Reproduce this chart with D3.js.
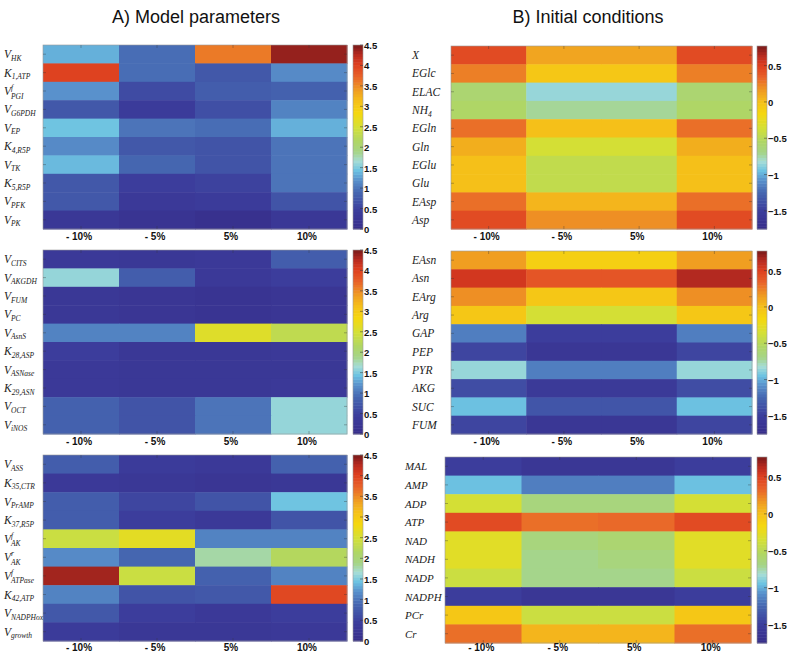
<!DOCTYPE html>
<html><head><meta charset="utf-8">
<script src="https://cdn.jsdelivr.net/npm/d3@7"></script>
<style>
body{margin:0;background:#fff;}
svg{display:block;}
</style></head>
<body>
<svg id="chart" width="787" height="655"></svg>
<script>
const columns = ["- 10%", "- 5%", "5%", "10%"];

// A) Model parameters
const rowsA1 = ["V_HK","K_1,ATP","V^f_PGI","V_G6PDH","V_EP","K_4,R5P","V_TK","K_5,R5P","V_PFK","V_PK"];
const valsA1 = [
  [1.35,0.95,3.6,4.4],
  [4.0,0.95,0.75,1.15],
  [1.2,0.6,0.8,0.85],
  [0.75,0.4,0.65,1.1],
  [1.45,1.0,0.95,1.35],
  [1.15,0.75,0.7,1.0],
  [1.4,0.9,0.7,1.0],
  [0.75,0.45,0.5,1.0],
  [0.75,0.35,0.4,0.7],
  [0.3,0.2,0.1,0.3]
];
const rowsA2 = ["V_CITS","V_AKGDH","V_FUM","V_PC","V_AsnS","K_28,ASP","V_ASNase","K_29,ASN","V_OCT","V_iNOS"];
const valsA2 = [
  [0.35,0.3,0.35,0.8],
  [1.6,0.8,0.35,0.45],
  [0.3,0.25,0.2,0.25],
  [0.3,0.25,0.2,0.25],
  [1.1,1.1,2.6,2.3],
  [0.45,0.3,0.3,0.35],
  [0.35,0.3,0.3,0.3],
  [0.35,0.3,0.3,0.35],
  [0.85,0.7,1.0,1.6],
  [0.85,0.7,1.0,1.6]
];
const rowsA3 = ["V_ASS","K_35,CTR","V_PrAMP","K_37,R5P","V^f_AK","V^r_AK","V^f_ATPase","K_42,ATP","V_NADPHox","V_growth"];
const valsA3 = [
  [0.8,0.4,0.35,0.85],
  [0.35,0.3,0.25,0.3],
  [0.8,0.55,0.7,1.45],
  [0.8,0.45,0.35,0.7],
  [2.4,2.65,1.1,1.1],
  [1.15,0.9,1.8,2.2],
  [4.35,2.4,0.85,1.1],
  [1.1,0.7,0.75,3.95],
  [0.75,0.45,0.35,0.45],
  [0.4,0.3,0.3,0.35]
];
const rangeA = [0, 4.5];
const ticksA = [0,0.5,1,1.5,2,2.5,3,3.5,4,4.5];

// B) Initial conditions
const rowsB1 = ["X","EGlc","ELAC","NH_4","EGln","Gln","EGlu","Glu","EAsp","Asp"];
const valsB1 = [
  [0.45,0.12,0.12,0.45],
  [0.25,-0.05,-0.05,0.25],
  [-0.6,-0.85,-0.85,-0.6],
  [-0.55,-0.72,-0.72,-0.55],
  [0.3,0.0,0.0,0.3],
  [0.08,-0.35,-0.35,0.08],
  [0.0,-0.45,-0.45,0.0],
  [0.0,-0.45,-0.45,0.0],
  [0.3,0.05,0.05,0.3],
  [0.45,0.2,0.2,0.45]
];
const rowsB2 = ["EAsn","Asn","EArg","Arg","GAP","PEP","PYR","AKG","SUC","FUM"];
const valsB2 = [
  [0.15,-0.1,-0.1,0.15],
  [0.55,0.4,0.4,0.65],
  [0.2,-0.05,-0.05,0.2],
  [-0.05,-0.35,-0.35,-0.05],
  [-1.15,-1.5,-1.5,-1.15],
  [-1.45,-1.6,-1.6,-1.45],
  [-0.85,-1.15,-1.15,-0.85],
  [-1.4,-1.55,-1.55,-1.4],
  [-0.95,-1.35,-1.35,-0.95],
  [-1.45,-1.6,-1.6,-1.45]
];
const rowsB3 = ["MAL","AMP","ADP","ATP","NAD","NADH","NADP","NADPH","PCr","Cr"];
const valsB3 = [
  [-1.5,-1.6,-1.6,-1.5],
  [-0.95,-1.15,-1.15,-0.95],
  [-0.35,-0.65,-0.65,-0.35],
  [0.45,0.3,0.32,0.45],
  [-0.28,-0.65,-0.6,-0.28],
  [-0.28,-0.7,-0.65,-0.28],
  [-0.4,-0.7,-0.7,-0.4],
  [-1.5,-1.6,-1.6,-1.5],
  [-0.05,-0.4,-0.4,-0.05],
  [0.3,0.05,0.05,0.3]
];
const rangeB = [-1.75, 0.77];
const ticksB = [-1.5,-1,-0.5,0,0.5];

// colormap
const cmapStops = [0,0.10,0.20,0.27,0.32,0.37,0.42,0.48,0.55,0.63,0.70,0.76,0.83,0.90,0.95,1];
const cmapColors = ["#372d8a","#3c3d9c","#4566b0","#5a93cd","#6dc3e2","#a5dcd6","#a5d486","#b0d664","#d2e038","#f5d80f","#f5be1a","#ef9a22","#e8622a","#dc3c1e","#b62a20","#7a1a1a"];
const cmap = d3.scaleLinear().domain(cmapStops).range(cmapColors).interpolate(d3.interpolateRgb).clamp(true);

const svg = d3.select("#chart");

svg.append("text").attr("x",196).attr("y",23).attr("text-anchor","middle")
  .attr("font-family","'Liberation Sans Narrow','Liberation Sans',Arial,sans-serif")
  .attr("font-stretch","condensed").attr("font-size",18).attr("fill","#111").text("A) Model parameters");
svg.append("text").attr("x",588).attr("y",23).attr("text-anchor","middle")
  .attr("font-family","'Liberation Sans Narrow','Liberation Sans',Arial,sans-serif")
  .attr("font-stretch","condensed").attr("font-size",18).attr("fill","#111").text("B) Initial conditions");

function parseLabel(s){
  let base=s, sub="", sup="";
  const ci = s.search(/[\^_]/);
  if(ci>=0){
    base = s.slice(0,ci);
    let rest = s.slice(ci);
    const mSup = rest.match(/\^([^_]*)/);
    const mSub = rest.match(/_([^\^]*)/);
    if(mSup) sup = mSup[1];
    if(mSub) sub = mSub[1];
  }
  return {base,sub,sup};
}

function panel(cfg){
  const {rows, vals, range, ticks, x0, x1, y0, y1, labelX, cbX, labelSize} = cfg;
  const g = svg.append("g");
  const x = d3.scaleBand().domain(columns).range([x0,x1]);
  const y = d3.scaleBand().domain(rows).range([y0,y1]);
  const norm = d3.scaleLinear().domain(range).range([0,1]);
  rows.forEach((r,i)=>{
    columns.forEach((c,j)=>{
      g.append("rect").attr("x",x(c)).attr("y",y(r))
        .attr("width",x.bandwidth()+0.5).attr("height",y.bandwidth()+0.5)
        .attr("fill",cmap(norm(vals[i][j])));
    });
  });
  g.append("rect").attr("x",x0).attr("y",y0).attr("width",x1-x0).attr("height",y1-y0)
    .attr("fill","none").attr("stroke","#999").attr("stroke-width",0.6);
  rows.forEach(r=>{
    const yc = y(r)+y.bandwidth()/2;
    g.append("line").attr("x1",x0).attr("x2",x0+3).attr("y1",yc).attr("y2",yc).attr("stroke","#333").attr("stroke-opacity",0.35);
    g.append("line").attr("x1",x1-3).attr("x2",x1).attr("y1",yc).attr("y2",yc).attr("stroke","#333").attr("stroke-opacity",0.35);
  });
  columns.forEach(c=>{
    const xc = x(c)+x.bandwidth()/2;
    g.append("line").attr("x1",xc).attr("x2",xc).attr("y1",y0).attr("y2",y0+3).attr("stroke","#333").attr("stroke-opacity",0.35);
    g.append("line").attr("x1",xc).attr("x2",xc).attr("y1",y1-3).attr("y2",y1).attr("stroke","#333").attr("stroke-opacity",0.35);
    g.append("text").attr("x",xc-2).attr("y",Math.min(y1+11,651)).attr("text-anchor","middle")
      .attr("font-family","'Liberation Sans',Arial,sans-serif").attr("font-weight","bold")
      .attr("font-size",10).attr("fill","#111").text(c);
  });
  rows.forEach(r=>{
    const yc = y(r)+y.bandwidth()/2+4;
    const p = parseLabel(r);
    const t = g.append("text").attr("x",labelX).attr("y",yc)
      .attr("font-family","'Liberation Serif','DejaVu Serif',serif").attr("font-style","italic")
      .attr("font-size",labelSize||11.5).attr("fill","#222");
    t.append("tspan").text(p.base);
    if(p.sup && p.sub){
      const sp = t.append("tspan").attr("font-size",7.5).attr("dy",-5).text(p.sup);
      const w = sp.node().getComputedTextLength();
      t.append("tspan").attr("font-size",7.5).attr("dx",-w).attr("dy",8.5).text(p.sub);
    } else if(p.sub){
      t.append("tspan").attr("font-size",7.5).attr("dy",2.5).text(p.sub);
    }
  });
  const cbY = d3.scaleLinear().domain(range).range([y1,y0]);
  const n = 64;
  const step = (range[1]-range[0])/n;
  for(let k=0;k<n;k++){
    const v0 = range[0]+k*step, v1 = v0+step;
    g.append("rect").attr("x",cbX).attr("y",cbY(v1)).attr("width",10)
      .attr("height",cbY(v0)-cbY(v1)+0.5).attr("fill",cmap(norm(v0+step/2)));
  }
  g.append("rect").attr("x",cbX).attr("y",y0).attr("width",10).attr("height",y1-y0)
    .attr("fill","none").attr("stroke","#999").attr("stroke-width",0.6);
  ticks.forEach(tv=>{
    g.append("line").attr("x1",cbX+7).attr("x2",cbX+10).attr("y1",cbY(tv)).attr("y2",cbY(tv)).attr("stroke","#333").attr("stroke-opacity",0.5);
    g.append("text").attr("x",cbX+11).attr("y",cbY(tv)+4)
      .attr("font-family","'Liberation Sans',Arial,sans-serif").attr("font-weight","bold")
      .attr("font-size",9.5).attr("fill","#111").text(d3.format("")(tv));
  });
}

panel({rows:rowsA1, vals:valsA1, range:rangeA, ticks:ticksA, x0:43, x1:347, y0:45, y1:229, labelX:4, cbX:353});
panel({rows:rowsA2, vals:valsA2, range:rangeA, ticks:ticksA, x0:43, x1:347, y0:250, y1:434, labelX:4, cbX:353});
panel({rows:rowsA3, vals:valsA3, range:rangeA, ticks:ticksA, x0:43, x1:347, y0:455, y1:641, labelX:4, cbX:353});
panel({rows:rowsB1, vals:valsB1, range:rangeB, ticks:ticksB, x0:451, x1:752, y0:46, y1:229, labelX:412, cbX:757});
panel({rows:rowsB2, vals:valsB2, range:rangeB, ticks:ticksB, x0:451, x1:752, y0:251, y1:434, labelX:412, cbX:757});
panel({rows:rowsB3, vals:valsB3, range:rangeB, ticks:ticksB, x0:445, x1:751, y0:457, y1:643, labelX:405, cbX:757, labelSize:11});
</script>
</body></html>
